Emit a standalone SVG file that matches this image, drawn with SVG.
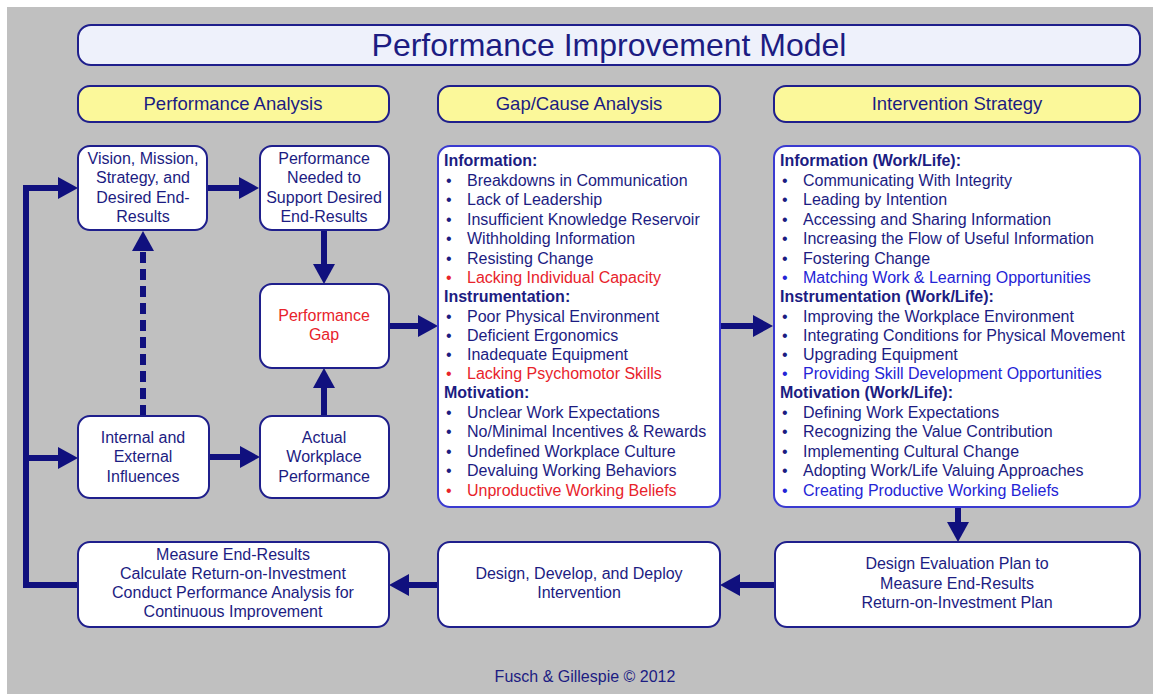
<svg xmlns="http://www.w3.org/2000/svg" width="1153" height="694" viewBox="0 0 1153 694">
  <defs>
    <style>
      .t { font-family: "Liberation Sans", Arial, sans-serif; fill: #1c1c82; }
      .node { fill: #ffffff; stroke: #1f1f8c; stroke-width: 2; }
      .list { fill: #ffffff; stroke: #3a3ad0; stroke-width: 2; }
      .head { fill: #fbf89a; stroke: #1f1f8c; stroke-width: 2; }
      .title { fill: #eef1fb; stroke: #1f1f8c; stroke-width: 2; }
      .nt { font-size: 16px; text-anchor: middle; }
      .ht { font-size: 18.5px; text-anchor: middle; }
      .li { font-size: 16px; }
      .b { font-weight: bold; }
      .red { fill: #e8232b; }
      .blue { fill: #2424d6; }
      .conn { stroke: #10107e; stroke-width: 6; fill: none; }
      .dash { stroke-dasharray: 11 6; }
    </style>
    <marker id="arrow" markerUnits="userSpaceOnUse" markerWidth="22" markerHeight="22" viewBox="0 0 20 22" refX="2" refY="11" orient="auto">
      <path d="M0,0 L20,11 L0,22 Z" fill="#10107e"/>
    </marker>
  </defs>

  <!-- canvas -->
  <rect x="0" y="0" width="1153" height="694" fill="#ffffff"/>
  <rect x="7" y="7" width="1146" height="687" fill="#c0c0c0"/>

  <!-- title -->
  <g id="title">
    <rect class="title" x="78" y="25" width="1062" height="40" rx="13"/>
    <text class="t" x="609" y="56" font-size="32" text-anchor="middle">Performance Improvement Model</text>
  </g>

  <!-- column headers -->
  <g id="hdr-performance-analysis">
    <rect class="head" x="78" y="86" width="311" height="36" rx="12"/>
    <text class="t ht" x="233" y="110">Performance Analysis</text>
  </g>
  <g id="hdr-gap-cause">
    <rect class="head" x="438" y="86" width="282" height="36" rx="12"/>
    <text class="t ht" x="579" y="110">Gap/Cause Analysis</text>
  </g>
  <g id="hdr-intervention">
    <rect class="head" x="774" y="86" width="366" height="36" rx="12"/>
    <text class="t ht" x="957" y="110">Intervention Strategy</text>
  </g>

  <!-- connectors -->
  <g id="connectors">
    <line class="conn" x1="207" y1="188" x2="241" y2="188" marker-end="url(#arrow)"/>
    <line class="conn" x1="324" y1="230" x2="324" y2="266" marker-end="url(#arrow)"/>
    <line class="conn" x1="324" y1="416" x2="324" y2="386" marker-end="url(#arrow)"/>
    <line class="conn" x1="209" y1="457" x2="242" y2="457" marker-end="url(#arrow)"/>
    <line class="conn dash" x1="143" y1="416" x2="143" y2="249" marker-end="url(#arrow)"/>
    <line class="conn" x1="389" y1="326" x2="420" y2="326" marker-end="url(#arrow)"/>
    <line class="conn" x1="720" y1="326" x2="755" y2="326" marker-end="url(#arrow)"/>
    <line class="conn" x1="958" y1="507" x2="958" y2="524" marker-end="url(#arrow)"/>
    <line class="conn" x1="775" y1="585" x2="738" y2="585" marker-end="url(#arrow)"/>
    <line class="conn" x1="438" y1="585" x2="407" y2="585" marker-end="url(#arrow)"/>
    <path class="conn" d="M78,585 H26 V188 H60" marker-end="url(#arrow)"/>
    <line class="conn" x1="26" y1="458" x2="60" y2="458" marker-end="url(#arrow)"/>
  </g>

  <!-- performance analysis nodes -->
  <g id="vision">
    <rect class="node" x="78" y="146" width="129" height="84" rx="12"/>
    <text class="t nt"><tspan x="143" y="164">Vision, Mission,</tspan><tspan x="143" y="183">Strategy, and</tspan><tspan x="143" y="203">Desired End-</tspan><tspan x="143" y="222">Results</tspan></text>
  </g>
  <g id="performance-needed">
    <rect class="node" x="260" y="146" width="129" height="84" rx="12"/>
    <text class="t nt"><tspan x="324" y="164">Performance</tspan><tspan x="324" y="183">Needed to</tspan><tspan x="324" y="203">Support Desired</tspan><tspan x="324" y="222">End-Results</tspan></text>
  </g>
  <g id="performance-gap">
    <rect class="node" x="260" y="284" width="129" height="84" rx="12"/>
    <text class="t nt red"><tspan x="324" y="321">Performance</tspan><tspan x="324" y="340">Gap</tspan></text>
  </g>
  <g id="influences">
    <rect class="node" x="78" y="416" width="131" height="82" rx="12"/>
    <text class="t nt"><tspan x="143" y="443">Internal and</tspan><tspan x="143" y="462">External</tspan><tspan x="143" y="482">Influences</tspan></text>
  </g>
  <g id="actual-performance">
    <rect class="node" x="260" y="416" width="129" height="82" rx="12"/>
    <text class="t nt"><tspan x="324" y="443">Actual</tspan><tspan x="324" y="462">Workplace</tspan><tspan x="324" y="482">Performance</tspan></text>
  </g>

  <!-- gap / cause list -->
  <g id="gap-cause">
    <rect class="list" x="438" y="146" width="282" height="361" rx="12"/>
    <g class="t li">
      <text class="b" x="444" y="166">Information:</text>
      <text x="446" y="186">•</text><text x="467" y="186">Breakdowns in Communication</text>
      <text x="446" y="205">•</text><text x="467" y="205">Lack of Leadership</text>
      <text x="446" y="225">•</text><text x="467" y="225">Insufficient Knowledge Reservoir</text>
      <text x="446" y="244">•</text><text x="467" y="244">Withholding Information</text>
      <text x="446" y="264">•</text><text x="467" y="264">Resisting Change</text>
      <text class="red" x="446" y="283">•</text><text class="red" x="467" y="283">Lacking Individual Capacity</text>
      <text class="b" x="444" y="302">Instrumentation:</text>
      <text x="446" y="322">•</text><text x="467" y="322">Poor Physical Environment</text>
      <text x="446" y="341">•</text><text x="467" y="341">Deficient Ergonomics</text>
      <text x="446" y="360">•</text><text x="467" y="360">Inadequate Equipment</text>
      <text class="red" x="446" y="379">•</text><text class="red" x="467" y="379">Lacking Psychomotor Skills</text>
      <text class="b" x="444" y="398">Motivation:</text>
      <text x="446" y="418">•</text><text x="467" y="418">Unclear Work Expectations</text>
      <text x="446" y="437">•</text><text x="467" y="437">No/Minimal Incentives &amp; Rewards</text>
      <text x="446" y="457">•</text><text x="467" y="457">Undefined Workplace Culture</text>
      <text x="446" y="476">•</text><text x="467" y="476">Devaluing Working Behaviors</text>
      <text class="red" x="446" y="496">•</text><text class="red" x="467" y="496">Unproductive Working Beliefs</text>
    </g>
  </g>

  <!-- intervention strategy list -->
  <g id="intervention">
    <rect class="list" x="774" y="146" width="366" height="361" rx="12"/>
    <g class="t li">
      <text class="b" x="780" y="166">Information (Work/Life):</text>
      <text x="782" y="186">•</text><text x="803" y="186">Communicating With Integrity</text>
      <text x="782" y="205">•</text><text x="803" y="205">Leading by Intention</text>
      <text x="782" y="225">•</text><text x="803" y="225">Accessing and Sharing Information</text>
      <text x="782" y="244">•</text><text x="803" y="244">Increasing the Flow of Useful Information</text>
      <text x="782" y="264">•</text><text x="803" y="264">Fostering Change</text>
      <text class="blue" x="782" y="283">•</text><text class="blue" x="803" y="283">Matching Work &amp; Learning Opportunities</text>
      <text class="b" x="780" y="302">Instrumentation (Work/Life):</text>
      <text x="782" y="322">•</text><text x="803" y="322">Improving the Workplace Environment</text>
      <text x="782" y="341">•</text><text x="803" y="341">Integrating Conditions for Physical Movement</text>
      <text x="782" y="360">•</text><text x="803" y="360">Upgrading Equipment</text>
      <text class="blue" x="782" y="379">•</text><text class="blue" x="803" y="379">Providing Skill Development Opportunities</text>
      <text class="b" x="780" y="398">Motivation (Work/Life):</text>
      <text x="782" y="418">•</text><text x="803" y="418">Defining Work Expectations</text>
      <text x="782" y="437">•</text><text x="803" y="437">Recognizing the Value Contribution</text>
      <text x="782" y="457">•</text><text x="803" y="457">Implementing Cultural Change</text>
      <text x="782" y="476">•</text><text x="803" y="476">Adopting Work/Life Valuing Approaches</text>
      <text class="blue" x="782" y="496">•</text><text class="blue" x="803" y="496">Creating Productive Working Beliefs</text>
    </g>
  </g>

  <!-- bottom row -->
  <g id="measure">
    <rect class="node" x="78" y="542" width="311" height="85" rx="12"/>
    <text class="t nt"><tspan x="233" y="560">Measure End-Results</tspan><tspan x="233" y="579">Calculate Return-on-Investment</tspan><tspan x="233" y="598">Conduct Performance Analysis for</tspan><tspan x="233" y="617">Continuous Improvement</tspan></text>
  </g>
  <g id="deploy">
    <rect class="node" x="438" y="542" width="282" height="85" rx="12"/>
    <text class="t nt"><tspan x="579" y="579">Design, Develop, and Deploy</tspan><tspan x="579" y="598">Intervention</tspan></text>
  </g>
  <g id="evaluation-plan">
    <rect class="node" x="775" y="542" width="365" height="85" rx="12"/>
    <text class="t nt"><tspan x="957" y="569">Design Evaluation Plan to</tspan><tspan x="957" y="589">Measure End-Results</tspan><tspan x="957" y="608">Return-on-Investment Plan</tspan></text>
  </g>

  <text class="t" x="585" y="682" font-size="16" text-anchor="middle">Fusch &amp; Gillespie © 2012</text>
</svg>
